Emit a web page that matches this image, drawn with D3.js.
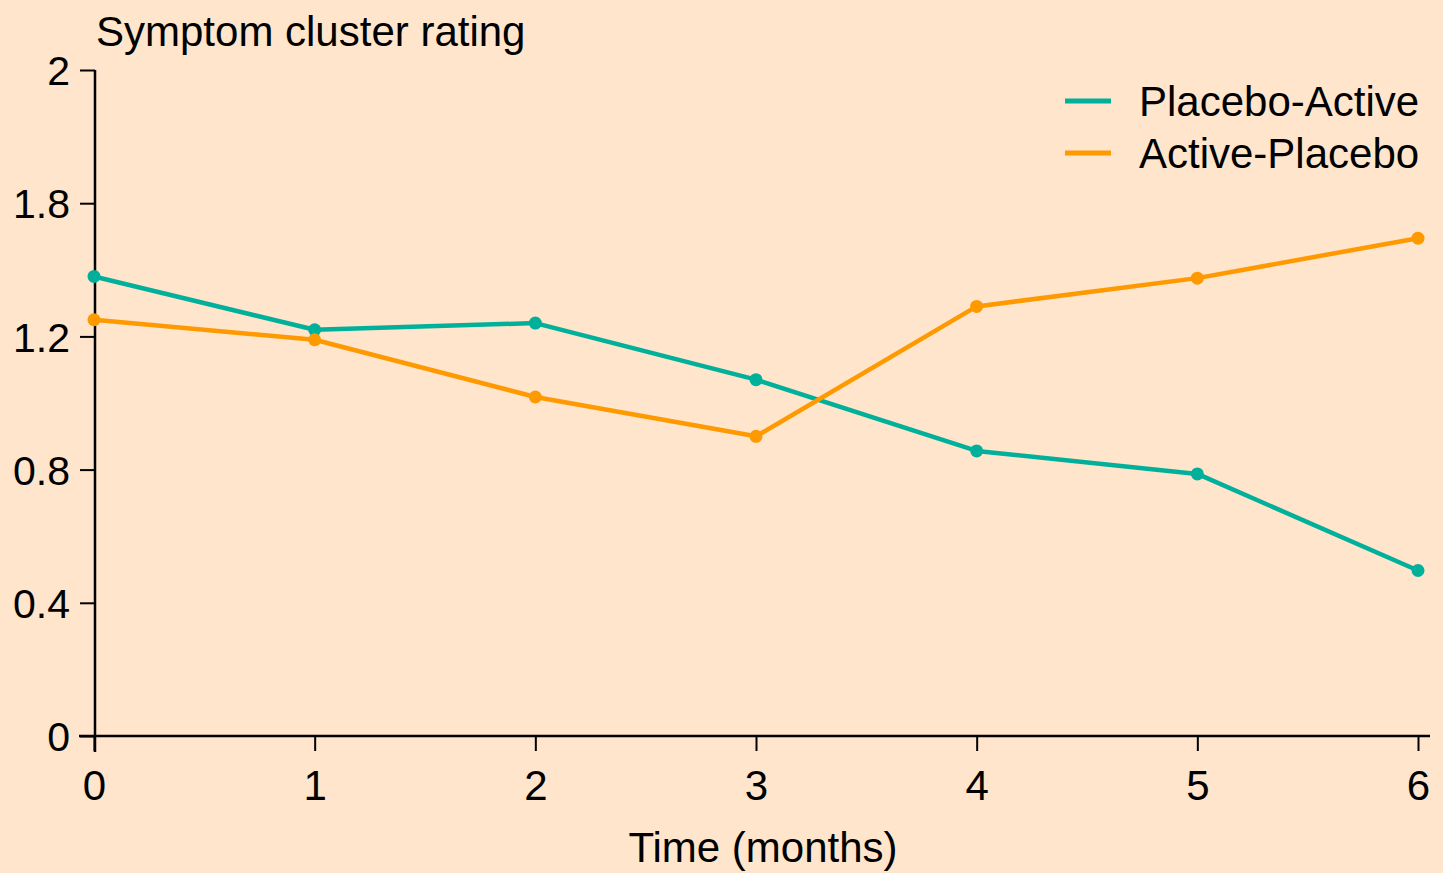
<!DOCTYPE html>
<html><head><meta charset="utf-8">
<script src="https://cdn.jsdelivr.net/npm/d3@7/dist/d3.min.js"></script>
<style>html,body{margin:0;padding:0;background:#FEE5CC;}svg{display:block;font-family:"Liberation Sans",Arial,sans-serif;}</style>
</head><body>
<svg id="c" width="1443" height="873"></svg>
<script>
const months = [0, 1, 2, 3, 4, 5, 6];
const placeboActive = [1.38, 1.22, 1.24, 1.07, 0.856, 0.787, 0.497];
const activePlacebo = [1.25, 1.19, 1.018, 0.9, 1.29, 1.375, 1.495];
const yTickValues = [0, 0.4, 0.8, 1.2, 1.6, 2];
const yTickLabels = ["0", "0.4", "0.8", "1.2", "1.8", "2"];
const seriesNames = ["Placebo-Active", "Active-Placebo"];
const seriesColors = ["#00B09B", "#FF9900"];

const svg = d3.select("#c");
svg.append("rect").attr("width",1443).attr("height",873).attr("fill","#FEE5CC");

const x = d3.scaleLinear().domain([0,6]).range([94,1418]);
const y = d3.scaleLinear().domain([0,2]).range([736,70]);

// y axis
const gy = svg.append("g").attr("transform","translate(95,0)")
  .call(d3.axisLeft(y).tickValues(yTickValues).tickFormat((d,i)=>yTickLabels[i]).tickSizeOuter(0).tickSize(15).tickPadding(10));
gy.select(".domain").remove();
gy.append("line").attr("x1",0).attr("x2",0).attr("y1",y(2)).attr("y2",y(0)+16).attr("stroke","#000").attr("stroke-width",2.5);
gy.selectAll(".tick line").attr("stroke","#000").attr("stroke-width",2);
gy.selectAll(".tick text").attr("fill","#000").attr("font-size",41).attr("dy","0.36em");

// x axis
const gx = svg.append("g").attr("transform","translate(0,736)")
  .call(d3.axisBottom(x).tickValues(months).tickFormat(d3.format("d")).tickSizeOuter(0).tickSize(15).tickPadding(19));
gx.select(".domain").remove();
gx.append("line").attr("x1",79).attr("x2",1430).attr("y1",0).attr("y2",0).attr("stroke","#000").attr("stroke-width",2.5);
gx.selectAll(".tick line").attr("stroke","#000").attr("stroke-width",2);
gx.selectAll(".tick text").attr("fill","#000").attr("font-size",42).attr("dy","0.71em");

// titles
svg.append("text").attr("x",96).attr("y",46).attr("font-size",42).attr("fill","#000").text("Symptom cluster rating");
svg.append("text").attr("x",763).attr("y",862).attr("text-anchor","middle").attr("font-size",42).attr("fill","#000").text("Time (months)");

// lines
const line = d3.line().x((d,i)=>x(months[i])).y(d=>y(d));
[placeboActive, activePlacebo].forEach((vals, k) => {
  svg.append("path").datum(vals).attr("d", line).attr("fill","none")
    .attr("stroke", seriesColors[k]).attr("stroke-width",4.5).attr("stroke-linejoin","round");
  svg.append("g").selectAll("circle").data(vals).join("circle")
    .attr("cx",(d,i)=>x(months[i])).attr("cy",d=>y(d)).attr("r",6.5).attr("fill",seriesColors[k]);
});

// legend
seriesNames.forEach((n,k)=>{
  const yy = 101 + k*52;
  svg.append("line").attr("x1",1065).attr("x2",1111).attr("y1",yy).attr("y2",yy)
    .attr("stroke",seriesColors[k]).attr("stroke-width",5);
  svg.append("text").attr("x",1139).attr("y",yy+15).attr("font-size",42).attr("fill","#000").text(n);
});
</script>
</body></html>
